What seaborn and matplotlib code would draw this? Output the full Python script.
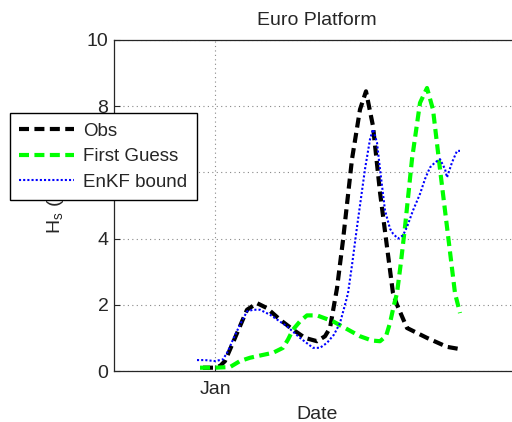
import matplotlib
matplotlib.use("Agg")
import matplotlib.pyplot as plt
import seaborn as sns

# Time axis in days since 1 Jan; significant wave height in metres
obs_day = [-0.48, -0.08, 0.2, 0.4, 0.8, 1.28, 1.68, 2.08, 2.6, 3.12, 3.6, 4.08, 4.4,
           4.6, 4.88, 5.12, 5.48, 5.8, 6.04, 6.32, 6.6, 6.88, 7.12, 7.28, 7.68, 8.08,
           8.48, 9.28, 9.88]
obs_hs = [0.1, 0.1, 0.15, 0.3, 1.0, 1.85, 2.05, 1.9, 1.55, 1.25, 1.0, 0.9, 1.05,
          1.3, 2.5, 3.95, 6.4, 7.9, 8.45, 7.4, 5.4, 3.75, 2.35, 2.0, 1.3, 1.15,
          1.0, 0.73, 0.65]

guess_day = [-0.6, 0.0, 0.6, 1.0, 1.4, 1.88, 2.32, 2.72, 2.92, 3.12, 3.4, 3.68, 4.08,
             4.72, 5.2, 5.8, 6.28, 6.6, 6.84, 7.0, 7.16, 7.28, 7.44, 7.6, 7.88, 8.2,
             8.48, 8.72, 9.0, 9.28, 9.6, 9.8]
guess_hs = [0.1, 0.1, 0.12, 0.3, 0.4, 0.48, 0.55, 0.7, 0.95, 1.25, 1.5, 1.68, 1.68,
            1.5, 1.3, 1.05, 0.92, 0.9, 1.05, 1.45, 2.0, 2.35, 3.3, 4.35, 6.4, 8.1,
            8.55, 7.9, 6.1, 4.35, 2.35, 1.75]

enkf_day = [-0.72, -0.4, 0.0, 0.32, 0.52, 0.72, 1.0, 1.28, 1.52, 1.8, 2.2, 2.88, 3.4,
            3.92, 4.2, 4.48, 4.76, 5.0, 5.2, 5.32, 5.48, 5.68, 6.0, 6.2, 6.32, 6.48,
            6.6, 6.8, 7.0, 7.12, 7.32, 7.52, 7.68, 7.92, 8.2, 8.4, 8.6, 8.8, 9.0,
            9.2, 9.28, 9.48, 9.68, 9.8]
enkf_hs = [0.33, 0.33, 0.3, 0.35, 0.6, 0.95, 1.4, 1.8, 1.85, 1.85, 1.7, 1.35, 1.0,
           0.7, 0.7, 0.85, 1.1, 1.45, 2.0, 2.35, 3.2, 4.35, 6.1, 7.0, 7.3, 6.9,
           6.1, 4.85, 4.3, 4.15, 4.0, 4.1, 4.35, 4.85, 5.35, 5.8, 6.15, 6.3, 6.4,
           6.1, 5.85, 6.3, 6.65, 6.65]

x_ticks = [0.0]
x_tick_labels = ["Jan"]
y_ticks = [0, 2, 4, 6, 8, 10]

sns.set_style("white")
plt.rcParams["font.family"] = ["Liberation Sans", "DejaVu Sans"]
plt.rcParams["mathtext.default"] = "regular"

fig = plt.figure(figsize=(5.12, 4.22), dpi=100)
ax = fig.add_axes([114 / 512, 51 / 422, 406 / 512, 331 / 422])

sns.lineplot(x=obs_day, y=obs_hs, ax=ax, sort=False, color="black", lw=3.0,
             linestyle=(0, (2.4, 1.3)), label="Obs")
sns.lineplot(x=guess_day, y=guess_hs, ax=ax, sort=False, color="#00ff00", lw=3.0,
             linestyle=(0, (2.4, 1.3)), label="First Guess")
sns.lineplot(x=enkf_day, y=enkf_hs, ax=ax, sort=False, color="blue", lw=1.5,
             linestyle=(0, (1.0, 1.0)), label="EnKF bound")

ax.set_xlim(-4.04, 12.2)
ax.set_ylim(0, 10)
ax.set_xticks(x_ticks)
ax.set_xticklabels(x_tick_labels)
ax.set_yticks(y_ticks)

ax.grid(True, color="#888888", linestyle=(0, (1, 3)), lw=0.8)
for side in ["left", "top", "bottom"]:
    ax.spines[side].set_color("#262626")
    ax.spines[side].set_linewidth(0.9)
ax.spines["right"].set_visible(False)
ax.tick_params(direction="in", length=4, width=0.8, labelsize=14, color="#262626",
               left=True, bottom=True, top=False, right=False)
ax.tick_params(axis="x", pad=7)
ax.tick_params(axis="y", pad=4)

ax.set_title("Euro Platform", fontsize=14, pad=11)
ax.set_xlabel("Date", fontsize=14, labelpad=6)
ax.set_ylabel("H$_s$ (m)", fontsize=14)
ax.yaxis.set_label_coords(-0.118, 0.5)

leg = ax.legend(loc="upper left", bbox_to_anchor=(10 / 512, 1 - 113 / 422),
                bbox_transform=fig.transFigure, fontsize=13.5, frameon=True,
                fancybox=False, framealpha=1, edgecolor="black",
                handlelength=2.9, handletextpad=0.5, borderpad=0.5,
                labelspacing=0.45, borderaxespad=0)
leg.get_frame().set_linewidth(1.0)
leg.set_zorder(10)

fig.savefig("out.png", dpi=100)
